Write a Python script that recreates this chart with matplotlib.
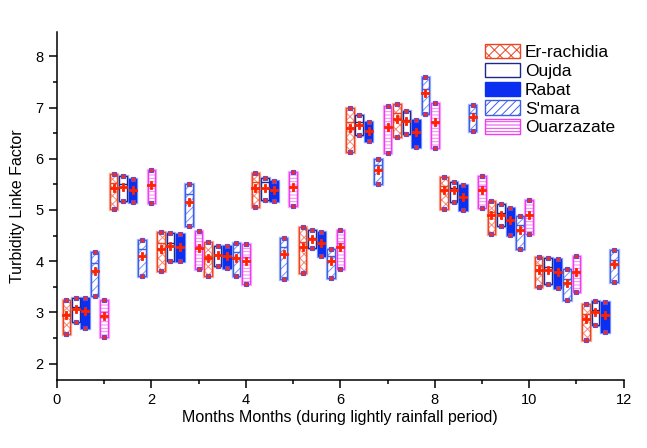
import matplotlib.pyplot as plt
import matplotlib.patches as mpatches
from matplotlib.ticker import MultipleLocator
import numpy as np

plt.rcParams['font.family'] = ['Liberation Sans', 'DejaVu Sans']
plt.rcParams['hatch.linewidth'] = 0.7

nan = np.nan
months = np.arange(12)
stations = ['Er-rachidia', 'Oujda', 'Rabat', "S'mara", 'Ouarzazate']

# box bottom / top / median / mean for each station, one value per month
er_lo = [2.57, 5.01, 3.81, 3.70, 5.05, 3.76, 6.14, 6.42, 5.02, 4.53, 3.50, 2.46]
er_hi = [3.25, 5.71, 4.56, 4.37, 5.73, 4.66, 6.99, 7.07, 5.65, 5.18, 4.09, 3.16]
er_med = [2.96, 5.52, 4.35, 4.11, 5.55, 4.38, 6.72, 6.89, 5.46, 4.96, 3.92, 2.96]
er_mean = [2.95, 5.42, 4.24, 4.06, 5.42, 4.27, 6.61, 6.77, 5.38, 4.90, 3.83, 2.86]

ou_lo = [2.81, 5.18, 4.00, 3.90, 5.20, 4.25, 6.46, 6.49, 5.16, 4.69, 3.56, 2.76]
ou_hi = [3.28, 5.67, 4.55, 4.30, 5.62, 4.60, 6.86, 6.94, 5.55, 5.12, 4.06, 3.23]
ou_med = [3.10, 5.50, 4.35, 4.12, 5.55, 4.45, 6.71, 6.76, 5.42, 4.94, 3.89, 3.04]
ou_mean = [3.07, 5.44, 4.30, 4.12, 5.42, 4.43, 6.66, 6.73, 5.39, 4.90, 3.83, 3.00]

ra_lo = [2.70, 5.15, 4.00, 3.87, 5.18, 4.10, 6.35, 6.23, 4.99, 4.51, 3.47, 2.62]
ra_hi = [3.28, 5.60, 4.53, 4.30, 5.57, 4.56, 6.72, 6.75, 5.48, 5.04, 4.05, 3.21]
ra_med = [3.00, 5.40, 4.28, 4.10, 5.40, 4.35, 6.55, 6.52, 5.25, 4.80, 3.78, 2.95]
ra_mean = [3.02, 5.39, 4.28, 4.10, 5.39, 4.35, 6.54, 6.53, 5.26, 4.80, 3.79, 2.95]

sm_lo = [3.32, 3.71, 4.68, 3.71, 3.66, 3.68, 5.50, 6.87, 6.55, 4.24, 3.24, 3.59]
sm_hi = [4.17, 4.41, 5.50, 4.35, 4.45, 4.23, 6.00, 7.60, 7.05, 4.88, 3.85, 4.22]
sm_med = [3.96, 4.24, 5.31, 4.17, 4.27, 4.10, 5.88, 7.37, 6.89, 4.70, 3.65, 4.02]
sm_mean = [3.81, 4.11, 5.16, 4.07, 4.13, 4.00, 5.78, 7.28, 6.81, 4.60, 3.57, 3.94]

oz_lo = [2.51, 5.13, 3.84, 3.56, 5.08, 3.85, 6.12, 6.21, 5.04, 4.53, 3.39, nan]
oz_hi = [3.25, 5.78, 4.59, 4.34, 5.74, 4.61, 7.04, 7.09, 5.67, 5.20, 4.10, nan]
oz_med = [3.00, 5.50, 4.30, 4.09, 5.45, 4.35, 6.60, 6.70, 5.46, 4.90, 3.80, nan]
oz_mean = [2.93, 5.48, 4.26, 4.00, 5.44, 4.27, 6.63, 6.71, 5.38, 4.90, 3.79, nan]

lows = [er_lo, ou_lo, ra_lo, sm_lo, oz_lo]
highs = [er_hi, ou_hi, ra_hi, sm_hi, oz_hi]
medians = [er_med, ou_med, ra_med, sm_med, oz_med]
means = [er_mean, ou_mean, ra_mean, sm_mean, oz_mean]

edge_cols = ['#ee4422', '#1c2a86', '#0a2ff0', '#3d5fe6', '#f03cf0']
hatch_cols = ['#f48a78', '#ffffff', '#0a2ff0', '#7592f2', '#f884f8']
face_cols = ['white', 'white', '#0a2ff0', 'white', 'white']
hatches = ['xxxx', '', '', '////', '-----']
halo_cols = ['#f8b0a0', '#a8b4e0', '#8fa4f6', '#a8baf6', '#fbb0fb']

fig, ax = plt.subplots(figsize=(6.47, 4.48), dpi=100)
fig.subplots_adjust(left=0.088, right=0.964, bottom=0.152, top=0.929)

w = 0.16
for k in range(5):
    x = months + 0.2 * (k + 1)
    lo = np.array(lows[k])
    hi = np.array(highs[k])
    # soft halo like the original rendering
    ax.bar(x, hi - lo, bottom=lo, width=w, color='none',
           edgecolor=halo_cols[k], linewidth=2.4, zorder=2)
    # hatch layer
    ax.bar(x, hi - lo, bottom=lo, width=w, color=face_cols[k],
           edgecolor=hatch_cols[k], hatch=hatches[k], linewidth=0, zorder=3)
    # outline
    ax.bar(x, hi - lo, bottom=lo, width=w, color='none',
           edgecolor=edge_cols[k], linewidth=1.0, zorder=4)
    ax.hlines(medians[k], x - w / 2, x + w / 2, color=edge_cols[k],
              linewidth=1.0, zorder=4)
    ax.plot(x, means[k], 'P', color='#ff2200', markersize=5.8,
            markeredgewidth=0.6, markeredgecolor='#ff2200', linestyle='none', zorder=6)
    for v in (lo, hi):
        ax.plot(x, v, 's', markerfacecolor='#ff2a10', markeredgecolor='#6a48c8',
                markersize=3.5, markeredgewidth=0.8, linestyle='none', zorder=7)

ax.set_xlim(0, 12)
ax.set_ylim(1.68, 8.48)
ax.xaxis.set_major_locator(MultipleLocator(2))
ax.xaxis.set_minor_locator(MultipleLocator(1))
ax.yaxis.set_major_locator(MultipleLocator(1))
ax.yaxis.set_minor_locator(MultipleLocator(0.5))
ax.tick_params(which='major', direction='out', length=6, width=1.1, labelsize=10.5)
ax.tick_params(which='minor', direction='out', length=3, width=1.1)
for s in ['top', 'right']:
    ax.spines[s].set_visible(False)
for s in ['left', 'bottom']:
    ax.spines[s].set_linewidth(1.1)

ax.set_xlabel('Months Months (during lightly rainfall period)', fontsize=11.5, labelpad=2)
ax.set_ylabel('Turbidity Linke Factor', fontsize=11.5, labelpad=8)

handles = []
for k in range(5):
    handles.append(mpatches.Patch(facecolor=face_cols[k], edgecolor=edge_cols[k],
                                  hatch=hatches[k].replace('xxxx', 'xxx'),
                                  linewidth=1.0, label=stations[k]))
ax.legend(handles=handles, loc='upper left', bbox_to_anchor=(0.755, 0.965),
          frameon=False, fontsize=12.5, handlelength=2.0, handleheight=0.9,
          handletextpad=0.3, labelspacing=0.15, borderaxespad=0, borderpad=0)

fig.savefig('out.png', dpi=100)
